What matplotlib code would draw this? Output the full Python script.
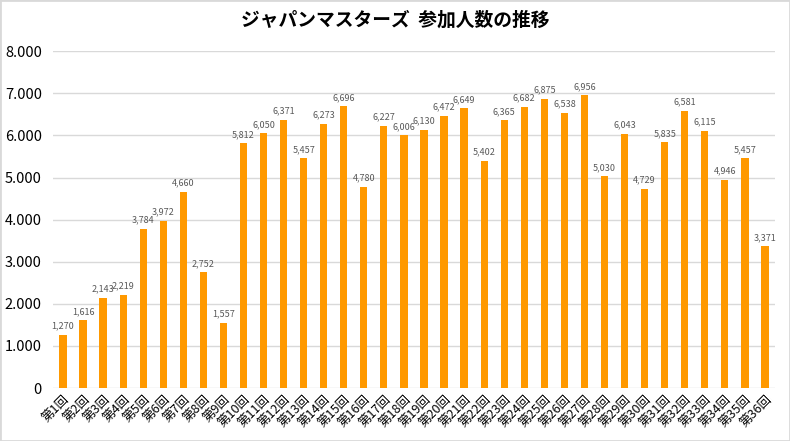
import matplotlib.pyplot as plt
from matplotlib.patches import Rectangle
from matplotlib.ticker import FuncFormatter

plt.rcParams["font.family"] = ["Noto Sans CJK JP", "DejaVu Sans"]

labels = [f"第{i}回" for i in range(1, 37)]
participants = [
    1270, 1616, 2143, 2219, 3784, 3972, 4660, 2752, 1557, 5812,
    6050, 6371, 5457, 6273, 6696, 4780, 6227, 6006, 6130, 6472,
    6649, 5402, 6365, 6682, 6875, 6538, 6956, 5030, 6043, 4729,
    5835, 6581, 6115, 4946, 5457, 3371,
]
title = "ジャパンマスターズ  参加人数の推移"

fig = plt.figure(figsize=(7.9, 4.41), dpi=100)
ax = fig.add_axes([0.067, 0.12, 0.914, 0.764])

x = range(len(labels))
bars = ax.bar(x, participants, width=0.36, color="#FF9900", zorder=3)

for bar, v in zip(bars, participants):
    ax.annotate(
        f"{v:,}",
        xy=(bar.get_x() + bar.get_width() / 2, bar.get_height()),
        xytext=(0, 3),
        textcoords="offset points",
        ha="center",
        va="bottom",
        fontsize=6.5,
        color="#595959",
    )

ax.set_xlim(-0.5, len(labels) - 0.5)
ax.set_ylim(0, 8000)
ax.set_yticks(range(0, 8001, 1000))
ax.yaxis.set_major_formatter(FuncFormatter(lambda v, p: f"{int(v):,}".replace(",", ".")))
ax.set_xticks(list(x))
ax.set_xticklabels(labels, rotation=45, ha="right", rotation_mode="anchor", fontsize=9)
ax.tick_params(axis="y", labelsize=10.5, length=0, pad=8)
ax.tick_params(axis="x", length=0, pad=3)
ax.grid(axis="y", color="#D9D9D9", linewidth=1, zorder=0)
for s in ax.spines.values():
    s.set_visible(False)

fig.suptitle(title, y=0.975, fontsize=13.5, fontweight="bold")

fig.patches.append(Rectangle((0, 0), 1, 1, transform=fig.transFigure,
                             fill=False, edgecolor="#D9D9D9", linewidth=2))

fig.savefig("out.png", dpi=100)
